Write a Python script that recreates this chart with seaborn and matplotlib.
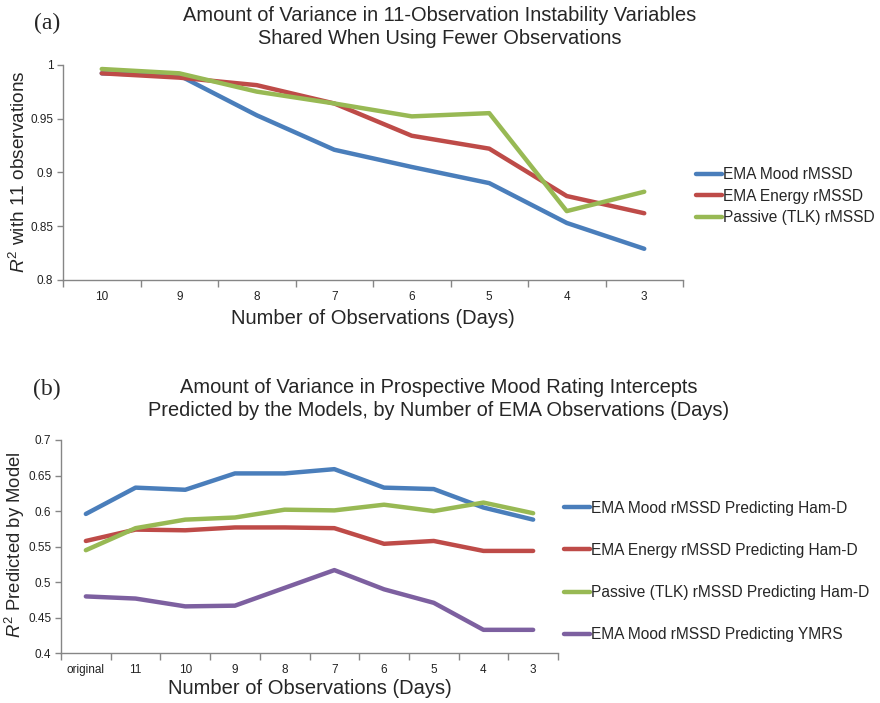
import numpy as np
import pandas as pd
import matplotlib
matplotlib.use("Agg")
import matplotlib.pyplot as plt
from matplotlib.ticker import FixedLocator, FuncFormatter
import seaborn as sns

# ---------------- data ----------------
cats_a = ["10", "9", "8", "7", "6", "5", "4", "3"]
series_a = ["EMA Mood rMSSD", "EMA Energy rMSSD", "Passive (TLK) rMSSD"]
mood_a = [0.992, 0.990, 0.953, 0.921, 0.905, 0.890, 0.853, 0.829]
energy_a = [0.992, 0.988, 0.981, 0.964, 0.934, 0.922, 0.878, 0.862]
passive_a = [0.996, 0.992, 0.975, 0.964, 0.952, 0.955, 0.864, 0.882]

cats_b = ["original", "11", "10", "9", "8", "7", "6", "5", "4", "3"]
series_b = ["EMA Mood rMSSD Predicting Ham-D", "EMA Energy rMSSD Predicting Ham-D",
            "Passive (TLK) rMSSD Predicting Ham-D", "EMA Mood rMSSD Predicting YMRS"]
mood_b = [0.596, 0.633, 0.630, 0.653, 0.653, 0.659, 0.633, 0.631, 0.605, 0.588]
energy_b = [0.558, 0.574, 0.573, 0.577, 0.577, 0.576, 0.554, 0.558, 0.544, 0.544]
passive_b = [0.545, 0.576, 0.588, 0.591, 0.602, 0.601, 0.609, 0.600, 0.612, 0.597]
ymrs_b = [0.480, 0.477, 0.466, 0.467, 0.492, 0.517, 0.490, 0.471, 0.433, 0.433]

colors = ["#4A7EBB", "#BE4B48", "#98B954", "#7D60A0"]

title_a = "Amount of Variance in 11-Observation Instability Variables\nShared When Using Fewer Observations"
title_b = ("Amount of Variance in Prospective Mood Rating Intercepts\n"
           "Predicted by the Models, by Number of EMA Observations (Days)")
xlabel = "Number of Observations (Days)"
ylabel_a = "$R^2$ with 11 observations"
ylabel_b = "$R^2$ Predicted by Model"


def long_df(cats, names, values):
    rows = []
    for name, vals in zip(names, values):
        for i, (c, v) in enumerate(zip(cats, vals)):
            rows.append({"pos": i, "cat": c, "series": name, "value": v})
    return pd.DataFrame(rows)


df_a = long_df(cats_a, series_a, [mood_a, energy_a, passive_a])
df_b = long_df(cats_b, series_b, [mood_b, energy_b, passive_b, ymrs_b])

# ---------------- style ----------------
sns.set_style("white")
plt.rcParams["font.family"] = ["Liberation Sans", "DejaVu Sans"]
plt.rcParams["mathtext.fontset"] = "custom"
plt.rcParams["mathtext.rm"] = "Liberation Sans"
plt.rcParams["mathtext.it"] = "Liberation Sans:italic"

W, H = 880, 703
fig = plt.figure(figsize=(W / 100, H / 100), dpi=100)


def fig_axes(left, top, right, bottom):
    return fig.add_axes([left / W, 1 - bottom / H, (right - left) / W, (bottom - top) / H])


ax_a = fig_axes(63, 64.7, 683, 280)
ax_b = fig_axes(61, 440, 558, 653.3)

grey = "#868686"


def style_axis(ax, cats, ylim, yticks, labelpad):
    n = len(cats)
    ax.set_xlim(-0.5, n - 0.5)
    ax.set_ylim(*ylim)
    ax.xaxis.set_major_locator(FixedLocator(range(n)))
    ax.set_xticklabels(cats)
    ax.xaxis.set_minor_locator(FixedLocator([i - 0.5 for i in range(n + 1)]))
    ax.tick_params(axis="x", which="major", length=0, pad=8, labelsize=8.5, labelcolor="#222222")
    ax.tick_params(axis="x", which="minor", length=5, width=1, color=grey, direction="out", bottom=True)
    ax.yaxis.set_major_locator(FixedLocator(yticks))
    ax.yaxis.set_major_formatter(FuncFormatter(lambda v, p: f"{v:g}"))
    ax.tick_params(axis="y", which="major", length=4, width=1, color=grey, direction="out",
                   left=True, pad=3, labelsize=8.5, labelcolor="#222222")
    for s in ["top", "right"]:
        ax.spines[s].set_visible(False)
    for s in ["left", "bottom"]:
        ax.spines[s].set_color(grey)
        ax.spines[s].set_linewidth(1)
    ax.set_xlabel(xlabel, fontsize=14.5, labelpad=labelpad)
    ax.set_ylabel("")


sns.lineplot(data=df_a, x="pos", y="value", hue="series", hue_order=series_a,
             palette=colors[:3], linewidth=3.2, sort=False, ax=ax_a)
sns.lineplot(data=df_b, x="pos", y="value", hue="series", hue_order=series_b,
             palette=colors, linewidth=3.2, sort=False, ax=ax_b)

style_axis(ax_a, cats_a, (0.8, 1.0), [0.8, 0.85, 0.9, 0.95, 1.0], 4)
style_axis(ax_b, cats_b, (0.4, 0.7), [0.4, 0.45, 0.5, 0.55, 0.6, 0.65, 0.7], 2)

fig.text(19 / W, 1 - 172 / H, ylabel_a, rotation=90, ha="center", va="center", fontsize=13.7)
fig.text(15 / W, 1 - 545 / H, ylabel_b, rotation=90, ha="center", va="center", fontsize=13.3)

for ax, anchor, spacing in [(ax_a, (696 / W, 1 - 196 / H), 0.42),
                            (ax_b, (564 / W, 1 - 571.5 / H), 1.75)]:
    h, l = ax.get_legend_handles_labels()
    old = ax.get_legend()
    if old is not None:
        old.remove()
    leg = fig.legend(h, l, loc="center left", bbox_to_anchor=anchor, bbox_transform=fig.transFigure,
                     frameon=False, fontsize=11.2, handlelength=1.65, handletextpad=0.1,
                     labelspacing=spacing, borderpad=0, borderaxespad=0)
    for line in leg.get_lines():
        line.set_linewidth(3.2)

fig.text(440 / W, 1 - 27 / H, title_a, ha="center", va="center", fontsize=14.4, linespacing=1.25)
fig.text(439 / W, 1 - 399 / H, title_b, ha="center", va="center", fontsize=14.4, linespacing=1.25)
fig.text(47 / W, 1 - 23 / H, "(a)", ha="center", va="center", fontsize=17, family="Liberation Serif")
fig.text(47 / W, 1 - 389 / H, "(b)", ha="center", va="center", fontsize=17, family="Liberation Serif")

fig.savefig("out.png", dpi=100)
